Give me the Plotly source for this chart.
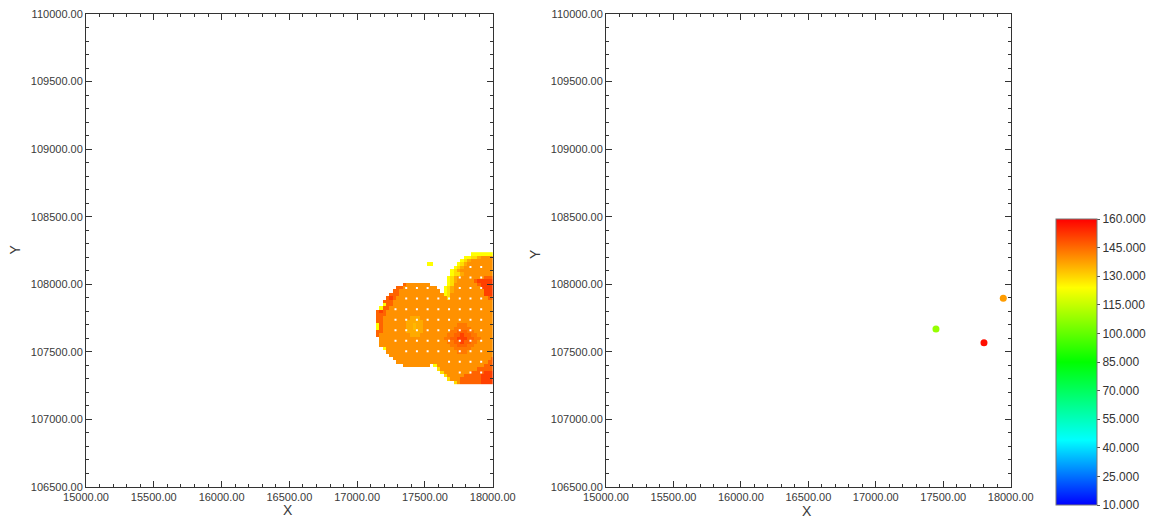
import plotly.graph_objects as go

# the page body adds an 8 px margin, so the figure is laid out 8 px smaller
OFF = 8
W, H = 1156 - OFF, 520 - OFF


def fx(px):
    return (px - OFF) / W


def fy(py):
    return 1 - (py - OFF) / H


# ---------------- data ----------------
# sample points shown in the right panel
pt_x = [17446, 17802, 17945]
pt_y = [107669, 107568, 107896]
pt_val = [108, 158, 138]

# colour bar tick values
cbar_ticks = [10, 25, 40, 55, 70, 85, 100, 115, 130, 145, 160]

# axis ranges
x_range = [15000, 18000]
y_range = [106500, 110000]

# gridded surface of the left panel (25 m cells)
grid_x0, grid_dx = 17125, 25
grid_y0, grid_dy = 107275, 25
level_values = {'Y': 124, 'L': 129, 'q': 134, 'p': 136, 'o': 139.5,
                'e': 143, 'd': 146, 'r': 151}
# run-length rows, listed top (north) to bottom (south); '.' = no value
surface_rows = [
    "29. 7Y",
    "27. 2Y 2L 1p 4o",
    "26. 1Y 1L 1p 7o",
    "16. 2Y 7. 1Y 1L 1p 8o",
    "24. 1Y 1L 1p 9o",
    "23. 1Y 1L 1p 10o",
    "23. 1Y 2L 1p 9o",
    "22. 1Y 1L 1p 8o 3d",
    "22. 1Y 1L 1p 5o 1d 5r",
    "9. 1d 7o 5. 1Y 1L 7o 1d 4r",
    "7. 2d 10o 2. 1Y 1L 1p 8o 4r",
    "6. 2d 12o 1. 1Y 1L 1p 9o 3r",
    "5. 3d 13o 1Y 1L 10o 3r",
    "4. 1d 1r 1d 15o 1L 11o 2d",
    "3. 3d 30o",
    "3. 1Y 2d 30o",
    "2. 1Y 2d 31o",
    "1. 1d 1r 1d 32o",
    "1. 3d 32o",
    "1. 2d 8o 3p 22o",
    "1. 2d 7o 5p 21o",
    "1. 1Y 1d 7o 2p 1q 2p 10o 3e 8o",
    "1. 1Y 1d 7o 2p 1q 2p 9o 5e 7o",
    "1. 2d 7o 5p 8o 2e 3d 2e 6o",
    "1. 1d 9o 3p 8o 2e 2d 1r 2d 2e 5o",
    "2. 19o 2e 2d 3r 2d 2e 4o",
    "2. 20o 2e 2d 1r 2d 2e 5o",
    "2. 21o 2e 3d 2e 6o",
    "3. 1Y 20o 5e 7o",
    "4. 21o 3e 8o",
    "5. 31o",
    "6. 29o 1d",
    "7. 27o 2d",
    "9. 8o 1. 1Y 14o 3d",
    "19. 1L 11o 5d",
    "20. 1L 8o 4d 3r",
    "21. 1L 5o 5d 4r",
    "22. 1L 3o 6d 4r",
    "24. 1L 1o 6d 4r",
]

# white grid-node markers of the left panel
dot_x = [17125, 17204, 17283, 17362, 17441, 17520, 17599, 17678, 17757,
         17836, 17915, 17994]
dot_y = [108206, 108128, 108050, 107972, 107894, 107816, 107738, 107660,
         107582, 107504, 107426, 107348, 107270]
dot_mask = [
    "000000000000",
    "000000000110",
    "000000001110",
    "000111001110",
    "000111111110",
    "001111111110",
    "001111111110",
    "001111111110",
    "001111111110",
    "000111111110",
    "000000011110",
    "000000001110",
    "000000000000",
]

# ---------------- build tables ----------------
NCOL = 36
z = []
for spec in reversed(surface_rows):
    cells = []
    for tok in spec.split():
        n, ch = int(tok[:-1]), tok[-1]
        cells += [level_values.get(ch)] * n
    cells = (cells + [None] * NCOL)[:NCOL]
    z.append(cells)

dx_list, dy_list = [], []
for yv, mrow in zip(dot_y, dot_mask):
    for xv, m in zip(dot_x, mrow):
        if m == "1":
            dx_list.append(xv)
            dy_list.append(yv)

colorscale = [
    [0.0, "#0000ff"],
    [0.227, "#00ffff"],
    [0.5, "#00ff00"],
    [0.76, "#ffff00"],
    [1.0, "#ff0000"],
]
cmin, cmax = 10, 160

fig = go.Figure()

fig.add_trace(go.Heatmap(
    z=z, x0=grid_x0, dx=grid_dx, y0=grid_y0, dy=grid_dy,
    colorscale=colorscale, zmin=cmin, zmax=cmax, showscale=False,
    hoverongaps=False, xaxis="x", yaxis="y",
))
fig.add_trace(go.Scatter(
    x=dx_list, y=dy_list, mode="markers",
    marker=dict(color="white", size=2, symbol="square", line=dict(width=0)),
    showlegend=False, hoverinfo="skip", xaxis="x", yaxis="y",
))
fig.add_trace(go.Scatter(
    x=pt_x, y=pt_y, mode="markers", showlegend=False,
    marker=dict(
        color=pt_val, colorscale=colorscale, cmin=cmin, cmax=cmax, size=7,
        line=dict(width=0),
        showscale=True,
        colorbar=dict(
            thickness=41, thicknessmode="pixels",
            len=286, lenmode="pixels",
            x=fx(1056), xanchor="left", xpad=0,
            y=fy(505), yanchor="bottom", ypad=0,
            tickvals=cbar_ticks, tickformat=".3f",
            ticks="outside", ticklen=3, tickcolor="#555",
            outlinecolor="#777", outlinewidth=1,
            tickfont=dict(family="Liberation Sans, Arial", size=12, color="#333"),
        ),
    ),
    xaxis="x2", yaxis="y2",
))

tickfont = dict(family="Liberation Sans, Arial", size=11, color="#3a3a3a")


def axis_style(rng, domain, anchor):
    return dict(
        range=rng, domain=domain, anchor=anchor, dtick=500, tickformat=".2f",
        ticks="inside", ticklen=6, tickwidth=1, tickcolor="#333",
        showline=True, linecolor="#333", linewidth=1, mirror="ticks",
        showgrid=False, zeroline=False, tickfont=tickfont,
        ticklabeloverflow="allow",
        minor=dict(dtick=100, ticks="inside", ticklen=3, tickcolor="#333",
                   showgrid=False),
        fixedrange=True, automargin=False,
    )


ydom = [fy(487), fy(14)]
fig.update_layout(
    width=W, height=H,
    margin=dict(l=0, r=0, t=0, b=0, autoexpand=False),
    paper_bgcolor="white", plot_bgcolor="white",
    showlegend=False,
    xaxis=axis_style(x_range, [fx(86), fx(492.7)], "y"),
    yaxis=axis_style(y_range, ydom, "x"),
    xaxis2=axis_style(x_range, [fx(606), fx(1010.7)], "y2"),
    yaxis2=axis_style(y_range, ydom, "x2"),
)

title_font = dict(family="Liberation Sans, Arial", size=14, color="#3a3a3a")
for tx, ty, txt, ang in [
    (288, 510, "X", 0), (807, 511, "X", 0),
    (14.5, 250, "Y", -90), (535, 254, "Y", -90),
]:
    fig.add_annotation(
        x=fx(tx), y=fy(ty), xref="paper", yref="paper", text=txt,
        showarrow=False, textangle=ang, font=title_font,
        xanchor="center", yanchor="middle",
    )

fig.write_html("out.html")
